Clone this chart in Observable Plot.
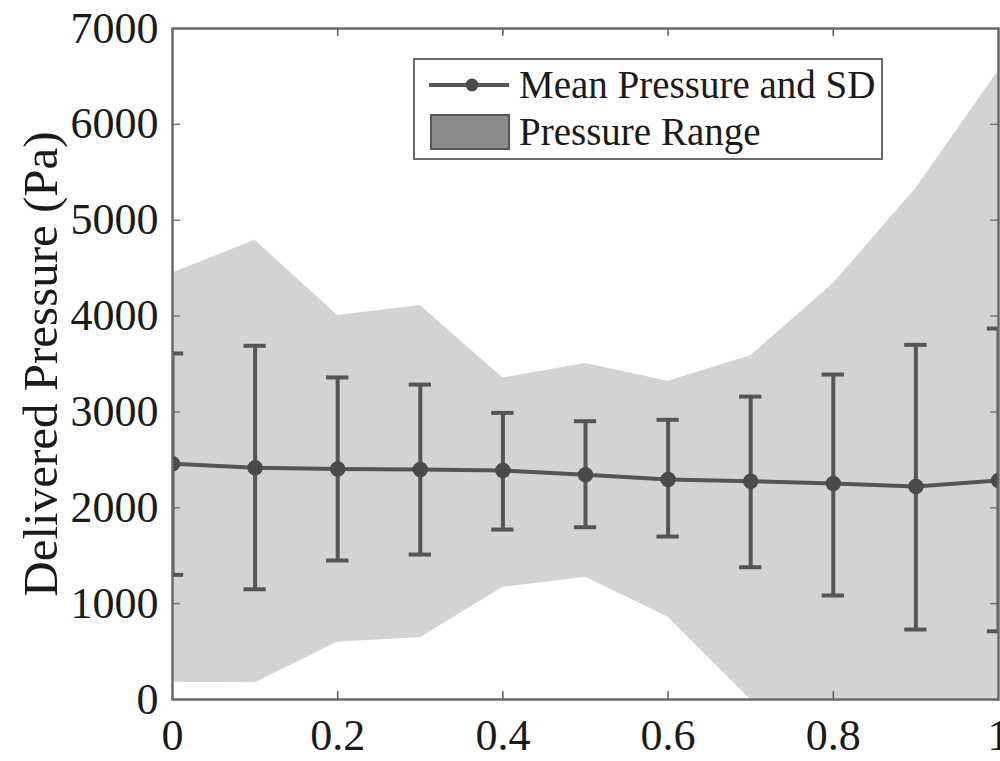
<!DOCTYPE html>
<html>
<head>
<meta charset="utf-8">
<script src="https://cdn.jsdelivr.net/npm/d3@7"></script>
<script src="https://cdn.jsdelivr.net/npm/@observablehq/plot@0.6"></script>
<style>
  html, body { margin: 0; padding: 0; background: #fff; }
  #wrap { position: relative; width: 1000px; height: 761px; overflow: hidden; }
  #legend { position: absolute; left: 413px; top: 58px; width: 466px; height: 98px;
    border: 2px solid #6a6a6a; background: #fff; font-family: "Liberation Serif", serif;
    font-size: 39px; color: #1a1a1a; box-sizing: content-box; }
  .row { position: absolute; left: 0; height: 40px; display: flex; align-items: center; }
  .row span { position: absolute; left: 104px; white-space: nowrap; line-height: 40px; }
</style>
</head>
<body>
<div id="wrap"></div>
<script>
const xs = [0, 0.1, 0.2, 0.3, 0.4, 0.5, 0.6, 0.7, 0.8, 0.9, 1.0];
const meanP = [2460, 2417, 2405, 2400, 2389, 2344, 2295, 2277, 2253, 2222, 2285];
const sdUpper = [3610, 3690, 3360, 3285, 2990, 2903, 2918, 3160, 3390, 3700, 3870];
const sdLower = [1300, 1150, 1450, 1512, 1773, 1797, 1700, 1380, 1085, 730, 712];
const rangeMax = [4450, 4790, 4005, 4110, 3355, 3505, 3320, 3585, 4340, 5330, 6560];
const rangeMin = [180, 175, 600, 645, 1170, 1275, 860, 0, 0, 0, 0];
const xTicks = [0, 0.2, 0.4, 0.6, 0.8, 1];
const xTickLabels = ["0", "0.2", "0.4", "0.6", "0.8", "1"];
const yTicks = [0, 1000, 2000, 3000, 4000, 5000, 6000, 7000];
const yTickLabels = ["0", "1000", "2000", "3000", "4000", "5000", "6000", "7000"];
const yLabel = "Delivered Pressure (Pa)";
const legendLabels = ["Mean Pressure and SD", "Pressure Range"];

const data = xs.map((x, i) => ({x, mean: meanP[i], hi: sdUpper[i], lo: sdLower[i], rmax: rangeMax[i], rmin: rangeMin[i]}));

const dark = "#555555";
const font = "Liberation Serif";
const capHalf = 0.0135;
const tickLenX = 0.0097;   // in x units (~8px)
const tickLenY = 82;       // in y units (~8px)

const chart = Plot.plot({
  width: 1000,
  height: 761,
  marginLeft: 172,
  marginRight: 2,
  marginTop: 28,
  marginBottom: 62,
  style: {fontFamily: font, background: "#fff", overflow: "visible"},
  x: {domain: [0, 1]},
  y: {domain: [0, 7000]},
  marks: [
    Plot.areaY(data, {x: "x", y1: "rmin", y2: "rmax", fill: "#d3d3d3", clip: true}),
    // inward ticks
    Plot.ruleY(yTicks.slice(1, -1), {x1: 0, x2: tickLenX, stroke: "#777", strokeWidth: 1.5}),
    Plot.ruleY(yTicks.slice(1, -1), {x1: 1 - tickLenX, x2: 1, stroke: "#777", strokeWidth: 1.5}),
    Plot.ruleX(xTicks.slice(1, -1), {y1: 0, y2: tickLenY, stroke: "#555", strokeWidth: 1.5}),
    Plot.ruleX(xTicks.slice(1, -1), {y1: 7000 - tickLenY, y2: 7000, stroke: "#555", strokeWidth: 1.5}),
    // error bars
    Plot.ruleX(data, {x: "x", y1: "lo", y2: "hi", stroke: dark, strokeWidth: 4, clip: true}),
    Plot.ruleY(data, {y: "hi", x1: d => d.x - capHalf, x2: d => d.x + capHalf, stroke: dark, strokeWidth: 4, clip: true}),
    Plot.ruleY(data, {y: "lo", x1: d => d.x - capHalf, x2: d => d.x + capHalf, stroke: dark, strokeWidth: 4, clip: true}),
    Plot.line(data, {x: "x", y: "mean", stroke: dark, strokeWidth: 4, clip: true}),
    Plot.dot(data, {x: "x", y: "mean", r: 7, fill: "#4a4a4a", stroke: "#4a4a4a", clip: true}),
    Plot.frame({stroke: "#6a6a6a", strokeWidth: 2.5}),
    Plot.axisX(xTicks, {tickSize: 0, tickPadding: 19, fontSize: 44, fill: "#1a1a1a",
      tickFormat: d => xTickLabels[xTicks.indexOf(d)], label: null}),
    Plot.axisY(yTicks, {tickSize: 0, tickPadding: 14, fontSize: 44, fill: "#1a1a1a",
      tickFormat: d => yTickLabels[yTicks.indexOf(d)], label: null}),
    Plot.text([yLabel], {frameAnchor: "left", textAnchor: "middle", rotate: -90, dx: -131, fontSize: 49,
      fill: "#1a1a1a", text: d => d, fontFamily: font})
  ]
});

const wrap = document.getElementById("wrap");
wrap.appendChild(chart);

const legend = document.createElement("div");
legend.id = "legend";
legend.innerHTML = `
  <div class="row" style="top:5px;width:100%">
    <svg width="100" height="40" style="position:absolute;left:0;top:0">
      <line x1="14" x2="94" y1="20" y2="20" stroke="${dark}" stroke-width="4"/>
      <circle cx="57" cy="20" r="6.5" fill="#4a4a4a"/>
    </svg>
    <span>${legendLabels[0]}</span>
  </div>
  <div class="row" style="top:52px;width:100%">
    <svg width="100" height="40" style="position:absolute;left:0;top:0">
      <rect x="16" y="3" width="78" height="34" fill="#8c8c8c" stroke="#555" stroke-width="2"/>
    </svg>
    <span>${legendLabels[1]}</span>
  </div>`;
wrap.appendChild(legend);
</script>
</body>
</html>
